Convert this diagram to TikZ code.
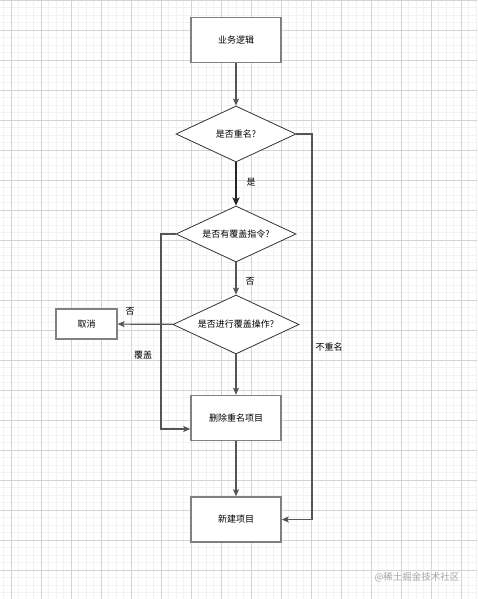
\documentclass[tikz,border=0pt]{standalone}
\usepackage{fontspec}
\newfontfamily\cjk{Noto Sans CJK SC}
\usetikzlibrary{shapes.geometric,arrows.meta}
\definecolor{minorgrid}{HTML}{F2F2F2}
\definecolor{majorgrid}{HTML}{D4D4D4}
\definecolor{boxline}{HTML}{808080}
\definecolor{conn}{HTML}{555555}
\begin{document}
\begin{tikzpicture}[x=1pt,y=-1pt,
  every node/.style={font=\cjk\fontsize{9}{10}\selectfont, text=black},
  procbox/.style={rectangle, draw=boxline, line width=1.5pt, fill=white, minimum width=90pt, minimum height=45pt, inner sep=0pt},
  smallbox/.style={rectangle, draw=boxline, line width=1.3pt, fill=white, minimum width=61pt, minimum height=30pt, inner sep=0pt},
  decision/.style={diamond, draw=black!80, line width=0.8pt, fill=white, shape aspect=2.15, minimum width=120pt, minimum height=56pt, inner sep=0pt},
  conn/.style={draw=conn, line width=1.2pt, -{Stealth[length=7pt,width=6pt,inset=1.5pt]}},
  boldconn/.style={draw=black!85, line width=2pt, -{Stealth[length=8pt,width=7pt,inset=1.5pt]}},
  lbl/.style={inner sep=1pt}]
\useasboundingbox (0,0) rectangle (477,599);
\fill[white] (0,0) rectangle (477,599);
% grid
\foreach \i in {0,...,64} {\draw[minorgrid,line width=0.5pt] ({3.5+7.5*\i},0) -- ({3.5+7.5*\i},599);}
\foreach \i in {0,...,80} {\draw[minorgrid,line width=0.5pt] (0,{7.5*\i}) -- (477,{7.5*\i});}
\foreach \i in {0,...,16} {\draw[majorgrid,line width=0.8pt] ({11+30*\i},0) -- ({11+30*\i},599);}
\foreach \i in {0,...,20} {\draw[majorgrid,line width=0.8pt] (0,{30*\i}) -- (477,{30*\i});}
% nodes
\node[procbox] (logic) at (236,40) {业务逻辑};
\node[decision] (d1) at (236,134) {是否重名?};
\node[decision] (d2) at (236,234) {是否有覆盖指令?};
\node[decision, minimum width=126pt, minimum height=59pt] (d3) at (236,324.5) {是否进行覆盖操作?};
\node[smallbox] (cancel) at (86.5,324) {取消};
\node[procbox] (del) at (236,418) {删除重名项目};
\node[procbox] (new) at (236,519.5) {新建项目};
\coordinate (rightcol) at (312,134);
\coordinate (leftcol) at (161,234);
% connectors
\draw[conn] (logic) -- (d1);
\draw[boldconn] (d1) -- (d2);
\draw[conn] (d2) -- (d3);
\draw[conn] (d3) -- (cancel);
\draw[conn] (d3) -- (del);
\draw[conn] (del) -- (new);
\draw[conn] (d1.east) -- (rightcol) |- (new.east);
\draw[conn] (d2.west) -- (leftcol) |- ([yshift=-11pt]del.west);
% labels
\node[lbl] (lyes) at (251,182) {是};
\node[lbl] (lno1) at (250,281) {否};
\node[lbl] (lno2) at (130,311) {否};
\node[lbl] (lcover) at (143,355) {覆盖};
\node[lbl] (lnodup) at (329,347) {不重名};
\node[font=\cjk\fontsize{9.5}{10}\selectfont, text=black!35] (wm) at (417,577) {@稀土掘金技术社区};
\end{tikzpicture}
\end{document}
